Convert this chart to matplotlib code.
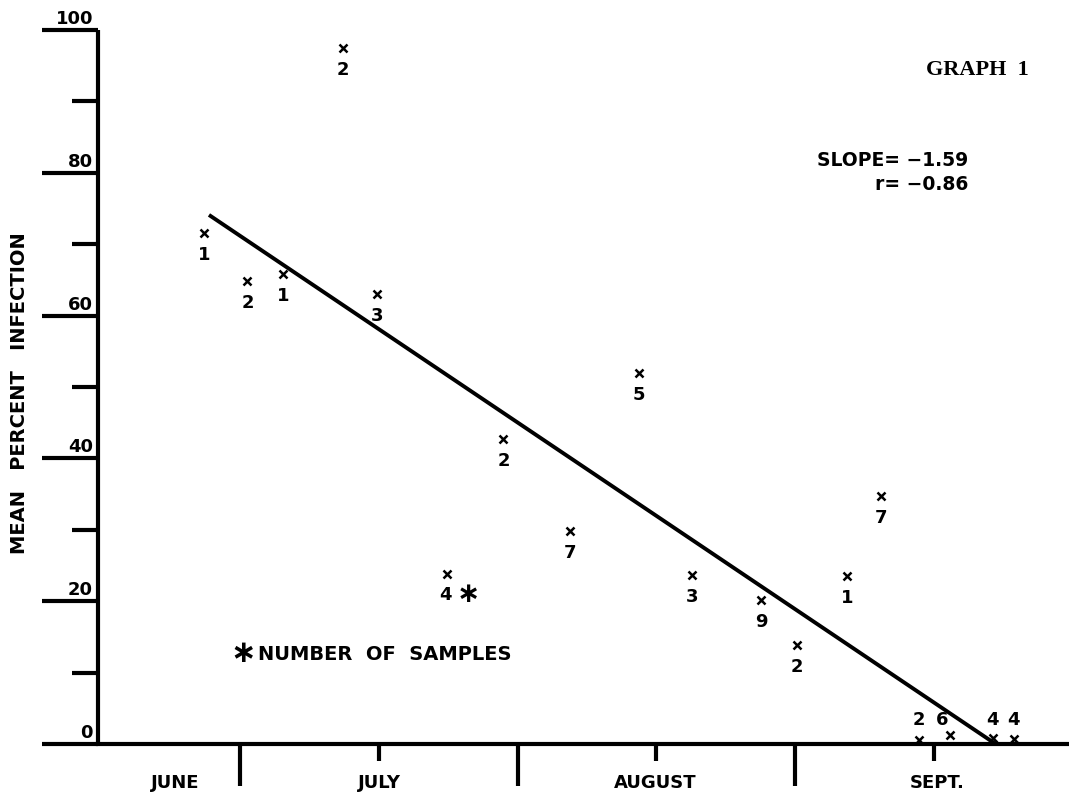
import matplotlib
matplotlib.use("Agg")
import matplotlib.pyplot as plt
from matplotlib.ticker import FixedLocator, NullFormatter
import matplotlib.transforms as mtransforms

# ---------------- data ----------------
# x = days counted from June 1
days = [26.0, 30.8, 34.8, 41.5, 45.3, 53.1, 59.4, 66.8, 74.5, 80.5,
        88.2, 92.2, 97.8, 101.6, 105.8, 109.3, 114.1, 116.4]
infection = [71.6, 64.8, 65.8, 97.5, 63.0, 23.8, 42.7, 29.8, 52.0, 23.6,
             20.1, 13.9, 23.5, 34.8, 0.6, 1.2, 0.8, 0.7]
n_samples = ["1", "2", "1", "2", "3", "4", "2", "7", "5", "3",
             "9", "2", "1", "7", "2", "6", "4", "4"]
label_above = [False] * 14 + [True, True, True, True]

fit_x = [26.5, 114.4]
fit_y = [74.1, 0.0]

month_names = ["JUNE", "JULY", "AUGUST", "SEPT."]
month_label_pos = [22.7, 45.6, 76.4, 107.9]
month_bounds = [30, 61, 92]
mid_month = [45.5, 76.5, 107.5]

yticks_major = [0, 20, 40, 60, 80, 100]
yticks_minor = [10, 30, 50, 70, 90]

slope_text = "SLOPE= \u22121.59"
r_text = "r= \u22120.86"

# ---------------- figure ----------------
FONT = "DejaVu Sans"
fig = plt.figure(figsize=(10.69, 7.97), dpi=100)
ax = fig.add_axes([98 / 1069, 1 - 744 / 797, 1 - 98 / 1069, (744 - 30) / 797])
ax.set_xlim(14.1, 122.6)
ax.set_ylim(0, 100)

for s in ["top", "right"]:
    ax.spines[s].set_visible(False)
ax.spines["left"].set_linewidth(3.0)
ax.spines["bottom"].set_linewidth(3.0)
ax.spines["left"].set_capstyle("butt")

# y ticks
ax.yaxis.set_major_locator(FixedLocator(yticks_major))
ax.yaxis.set_minor_locator(FixedLocator(yticks_minor))
ax.yaxis.set_major_formatter(NullFormatter())
ax.tick_params(axis="y", which="major", length=40, width=3.0, direction="out")
ax.tick_params(axis="y", which="minor", length=19, width=3.0, direction="out")

# x ticks
ax.xaxis.set_major_locator(FixedLocator(month_bounds))
ax.xaxis.set_minor_locator(FixedLocator(mid_month))
ax.xaxis.set_major_formatter(NullFormatter())
ax.tick_params(axis="x", which="major", length=30, width=3.0, direction="out")
ax.tick_params(axis="x", which="minor", length=12, width=3.0, direction="out")

# y tick labels above the tick marks
for v in yticks_major:
    ax.annotate(str(v), xy=(ax.get_xlim()[0], v), xytext=(-5, 2),
                textcoords="offset pixels", ha="right", va="bottom",
                fontsize=13, fontweight="bold", family=FONT, annotation_clip=False)

# month labels
trans = mtransforms.blended_transform_factory(ax.transData, fig.transFigure)
for name, pos in zip(month_names, month_label_pos):
    ax.text(pos, 1 - 783 / 797, name, transform=trans, ha="center", va="center",
            fontsize=13, fontweight="bold", family=FONT)

# data points
ax.plot(days, infection, linestyle="none", marker="x", markersize=6,
        markeredgewidth=1.8, color="black", clip_on=False, zorder=4)

for x, y, lab, above in zip(days, infection, n_samples, label_above):
    if above:
        # labels sit just above the baseline cluster
        dx = -8 if lab == "6" else 0
        ax.annotate(lab, xy=(x, 0), xytext=(dx, 24), textcoords="offset pixels",
                    ha="center", va="center", fontsize=13, fontweight="bold",
                    family=FONT, annotation_clip=False)
    elif lab == "4":
        ax.annotate(lab, xy=(x, y), xytext=(-2, -21), textcoords="offset pixels",
                    ha="center", va="center", fontsize=13, fontweight="bold",
                    family=FONT, annotation_clip=False)
        ax.annotate("\u2217", xy=(x, y), xytext=(21, -20), textcoords="offset pixels",
                    ha="center", va="center", fontsize=20, fontweight="bold",
                    family=FONT, annotation_clip=False)
    else:
        ax.annotate(lab, xy=(x, y), xytext=(0, -22), textcoords="offset pixels",
                    ha="center", va="center", fontsize=13, fontweight="bold",
                    family=FONT, annotation_clip=False)

# regression line
ax.plot(fit_x, fit_y, color="black", linewidth=2.8, solid_capstyle="butt", zorder=3)

# annotations
fig.text(968 / 1069, 1 - 160 / 797, slope_text, ha="right", va="center",
         fontsize=13.5, fontweight="bold", family=FONT)
fig.text(968 / 1069, 1 - 185 / 797, r_text, ha="right", va="center",
         fontsize=13.5, fontweight="bold", family=FONT)
fig.text(977 / 1069, 1 - 70 / 797, "GRAPH  1", ha="center", va="center",
         fontsize=16, fontweight="bold", family="Liberation Serif")
fig.text(258 / 1069, 1 - 654 / 797, "NUMBER  OF  SAMPLES", ha="left", va="center",
         fontsize=14, fontweight="bold", family=FONT)
fig.text(243 / 1069, 1 - 653 / 797, "\u2217", ha="center", va="center",
         fontsize=22, fontweight="bold", family=FONT)
fig.text(20 / 1069, 1 - 393 / 797, "MEAN   PERCENT   INFECTION", rotation=90,
         ha="center", va="center", fontsize=14, fontweight="bold", family=FONT)

fig.savefig("out.png", dpi=100)
